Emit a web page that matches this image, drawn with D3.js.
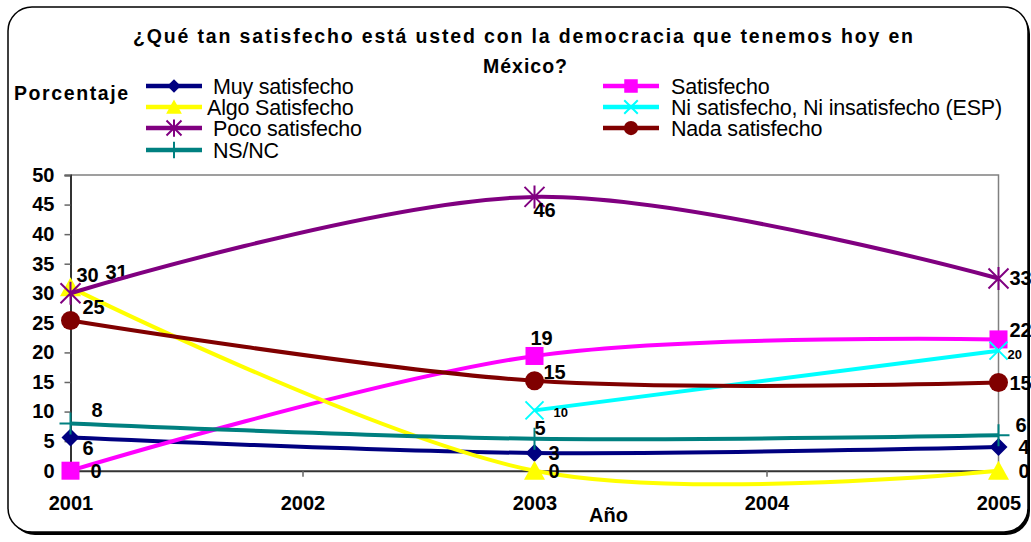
<!DOCTYPE html>
<html>
<head>
<meta charset="utf-8">
<script src="https://cdnjs.cloudflare.com/ajax/libs/d3/7.8.5/d3.min.js"></script>
<style>
  body { margin: 0; background: #fff; }
  text { font-family: "Liberation Sans", Arial, sans-serif; }
</style>
</head>
<body>
<div id="chart-area"></div>
<script>

// Data
var years = [2001, 2003, 2005];
var axisYears = [2001, 2002, 2003, 2004, 2005];
var yTicks = [0, 5, 10, 15, 20, 25, 30, 35, 40, 45, 50];

var muySatisfecho = [5.6, 3, 4];
var satisfecho = [0, 19.4, 22.2];
var algoSatisfecho = [31, 0, 0];
var niSatisfecho = [null, 10.2, 20.3];
var pocoSatisfecho = [30, 46.3, 32.5];
var nadaSatisfecho = [25.4, 15.2, 14.9];
var nsnc = [8, 5.4, 6];

var seriesNames = ["Muy satisfecho", "Satisfecho", "Algo Satisfecho",
	"Ni satisfecho, Ni insatisfecho (ESP)", "Poco satisfecho", "Nada satisfecho", "NS/NC"];

// styles, marker shapes and data label offsets (dx, dy from the point)
var series = [
	{name: seriesNames[0], values: muySatisfecho, color: "#000080", marker: "diamond",
		off: [[12, 10], [14, 0], [20, 0]]},
	{name: seriesNames[1], values: satisfecho, color: "#ff00ff", marker: "square",
		off: [[20, 0], [-4, -18], [11, -9]]},
	{name: seriesNames[2], values: algoSatisfecho, color: "#ffff00", marker: "triangle",
		off: [[35, -15], [14, 0], [20, 0]]},
	{name: seriesNames[3], values: niSatisfecho, color: "#00ffff", marker: "x", small: true,
		off: [[0, 0], [19, 2], [9, 4]]},
	{name: seriesNames[4], values: pocoSatisfecho, color: "#800080", marker: "star",
		off: [[6, -18], [-1, 13], [11, 0]]},
	{name: seriesNames[5], values: nadaSatisfecho, color: "#800000", marker: "circle",
		off: [[12, -13], [9, -9], [11, 0]]},
	{name: seriesNames[6], values: nsnc, color: "#008080", marker: "plus",
		off: [[21, -13], [0, -11], [17, -10]]}
];

var W = 1031, H = 542;

var svg = d3.select("#chart-area").append("svg")
	.attr("width", W)
	.attr("height", H);

// chart frame with shadow
svg.append("rect")
	.attr("x", 11).attr("y", 10)
	.attr("width", 1019).attr("height", 525)
	.attr("rx", 24).attr("ry", 24)
	.attr("fill", "#000");
svg.append("rect")
	.attr("x", 8).attr("y", 7)
	.attr("width", 1020).attr("height", 525)
	.attr("rx", 24).attr("ry", 24)
	.attr("fill", "#fff")
	.attr("stroke", "#000")
	.attr("stroke-width", 1.5);

// title
svg.append("text")
	.attr("x", 133).attr("y", 43)
	.attr("textLength", 780)
	.attr("lengthAdjust", "spacing")
	.style("font-size", "19.5px").style("font-weight", "bold")
	.text("¿Qué tan satisfecho está usted con la democracia que tenemos hoy en");
svg.append("text")
	.attr("x", 483).attr("y", 73)
	.attr("textLength", 84)
	.attr("lengthAdjust", "spacing")
	.style("font-size", "19.5px").style("font-weight", "bold")
	.text("México?");

svg.append("text")
	.attr("x", 14).attr("y", 100)
	.attr("textLength", 114)
	.attr("lengthAdjust", "spacing")
	.style("font-size", "19.5px").style("font-weight", "bold")
	.text("Porcentaje");

// scales
var x = d3.scaleLinear().domain([2001, 2005]).range([70.5, 998.5]);
var y = d3.scaleLinear().domain([0, 50]).range([470.7, 175]);

// plot area border (top / right)
svg.append("path")
	.attr("d", "M" + x(2001) + "," + y(50) + "H" + x(2005) + "V" + y(0))
	.attr("fill", "none")
	.attr("stroke", "#808080")
	.attr("stroke-width", 1.5);

var yAxis = d3.axisLeft(y).tickValues(yTicks).tickSize(6).tickPadding(9);
var gy = svg.append("g")
	.attr("class", "axis y-axis")
	.attr("transform", "translate(" + x(2001) + ",0)")
	.call(yAxis);

var xAxis = d3.axisBottom(x).tickValues(axisYears).tickFormat(d3.format("d")).tickSize(6).tickPadding(19);
var gx = svg.append("g")
	.attr("class", "axis x-axis")
	.attr("transform", "translate(0," + y(0) + ")")
	.call(xAxis);

[gx, gy].forEach(function(g) {
	g.select(".domain").attr("stroke", "#333").attr("stroke-width", 2);
	g.selectAll(".tick line").attr("stroke", "#666").attr("stroke-width", 1.5);
	g.selectAll(".tick text")
		.attr("fill", "#000")
		.style("font-family", "'Liberation Sans', Arial, sans-serif")
		.style("font-size", "20px")
		.style("font-weight", "bold");
});
gx.selectAll(".tick line").filter(function(d) { return d === 2001 || d === 2005; }).remove();
gx.selectAll(".tick text").attr("dy", "0.71em");
gy.selectAll(".tick text").attr("dx", "-1");

svg.append("text")
	.attr("x", 589).attr("y", 522)
	.style("font-size", "20px").style("font-weight", "bold")
	.text("Año");

// marker drawing
function drawMarker(g, type, color, s) {
	var h = 9 * s;
	if (type === "diamond") {
		g.append("path").attr("d", "M0," + (-h) + "L" + h + ",0L0," + h + "L" + (-h) + ",0Z").attr("fill", color);
	} else if (type === "square") {
		g.append("rect").attr("x", -h).attr("y", -h).attr("width", 2 * h).attr("height", 2 * h).attr("fill", color);
	} else if (type === "triangle") {
		g.append("path").attr("d", "M0," + (-10 * s) + "L" + (10.5 * s) + "," + (9 * s) + "L" + (-10.5 * s) + "," + (9 * s) + "Z").attr("fill", color);
	} else if (type === "circle") {
		g.append("circle").attr("r", 9.5 * s).attr("fill", color);
	} else if (type === "x") {
		g.append("path").attr("d", "M" + (-h) + "," + (-h) + "L" + h + "," + h + "M" + h + "," + (-h) + "L" + (-h) + "," + h)
			.attr("stroke", color).attr("stroke-width", 2);
	} else if (type === "star") {
		var k = 10 * s;
		g.append("path").attr("d", "M" + (-k) + "," + (-k) + "L" + k + "," + k + "M" + k + "," + (-k) + "L" + (-k) + "," + k + "M0," + (-k * 1.15) + "V" + (k * 1.15))
			.attr("stroke", color).attr("stroke-width", 2);
	} else if (type === "plus") {
		var p = 11 * s;
		g.append("path").attr("d", "M0," + (-p) + "V" + p + "M" + (-p) + ",0H" + p)
			.attr("stroke", color).attr("stroke-width", 2);
	}
}

// legend
var legendCols = [
	{lineX: 146, textX: 213},
	{lineX: 603, textX: 671}
];
var legendRows = [86, 107, 128, 150];

series.forEach(function(s, i) {
	var col = legendCols[i % 2];
	var ly = legendRows[Math.floor(i / 2)];
	var g = svg.append("g").attr("class", "legend-item");
	g.append("line")
		.attr("x1", col.lineX).attr("x2", col.lineX + 56)
		.attr("y1", ly).attr("y2", ly)
		.attr("stroke", s.color).attr("stroke-width", 4.5);
	drawMarker(g.append("g").attr("transform", "translate(" + (col.lineX + 28) + "," + ly + ")"), s.marker, s.color, 0.75);
	g.append("text")
		.attr("x", s.name === "Algo Satisfecho" ? col.textX - 6 : col.textX)
		.attr("y", ly + 7.5)
		.style("font-size", "21.5px")
		.style("letter-spacing", "-0.2px")
		.text(s.name);
});

// lines, markers, labels
var line = d3.line()
	.defined(function(d) { return d.v !== null; })
	.x(function(d) { return x(d.year); })
	.y(function(d) { return y(d.v); })
	.curve(d3.curveCardinal.tension(0));

series.forEach(function(s) {
	var pts = years.map(function(yr, j) { return {year: yr, v: s.values[j], off: s.off[j]}; });
	var valid = pts.filter(function(d) { return d.v !== null; });

	svg.append("path")
		.datum(valid)
		.attr("class", "line")
		.attr("d", line)
		.attr("fill", "none")
		.attr("stroke", s.color)
		.attr("stroke-width", 4);

	valid.forEach(function(d) {
		drawMarker(svg.append("g").attr("transform", "translate(" + x(d.year) + "," + y(d.v) + ")"), s.marker, s.color, 1);
	});

	svg.selectAll(null)
		.data(valid)
		.enter().append("text")
		.attr("x", function(d) { return x(d.year) + d.off[0]; })
		.attr("y", function(d) { return y(d.v) + d.off[1] + (s.small ? 4.5 : 7); })
		.style("font-size", s.small ? "13px" : "20px")
		.style("font-weight", "bold")
		.text(function(d) { return Math.round(d.v); });
});

</script>
</body>
</html>
